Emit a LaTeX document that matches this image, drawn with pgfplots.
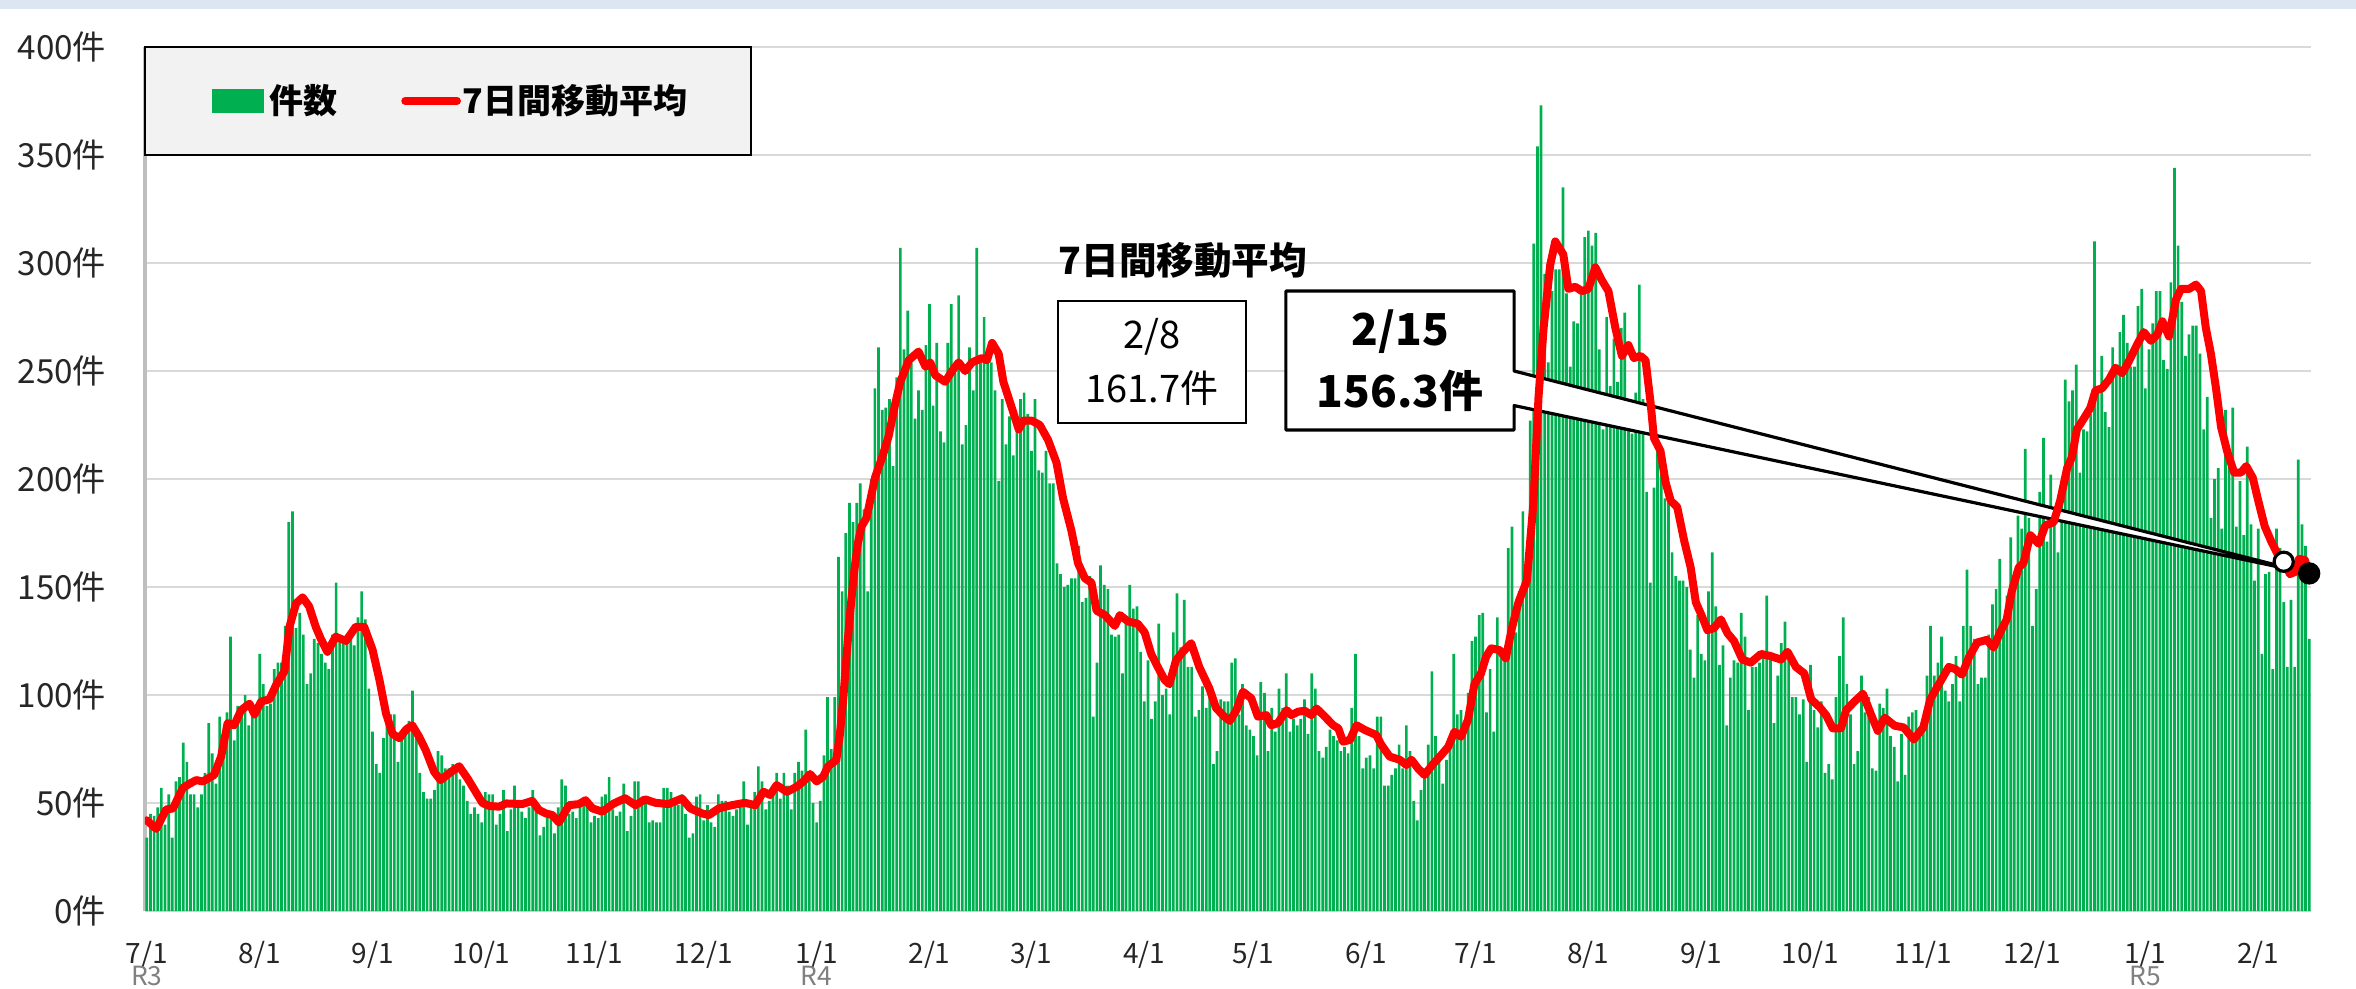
\documentclass[border=0pt]{standalone}
\usepackage{fontspec}
\setmainfont{Noto Sans CJK JP}
\usepackage{pgfplots}
\pgfplotsset{compat=1.18}
\definecolor{barg}{RGB}{0,176,80}
\definecolor{gridc}{RGB}{217,217,217}
\definecolor{axc}{RGB}{191,191,191}
\definecolor{topband}{RGB}{220,230,242}
\definecolor{legfill}{RGB}{242,242,242}
\begin{document}
\begin{tikzpicture}
\fill[white] (-36.25pt,-19.25pt) rectangle (552.75pt,227.75pt);
\fill[topband] (-36.25pt,225.5pt) rectangle (552.75pt,227.75pt);
\begin{axis}[
  scale only axis, width=541.5pt, height=216pt,
  xmin=-0.5, xmax=594.5, ymin=0, ymax=400,
  clip mode=individual,
  axis lines=left, axis line style={-},
  x axis line style={draw=gridc, line width=0.6pt},
  y axis line style={draw=axc, line width=0.8pt},
  ytick={0,50,...,400},
  yticklabels={0件,50件,100件,150件,200件,250件,300件,350件,400件},
  xtick={0,31,62,92,123,153,184,215,243,274,304,335,365,396,427,457,488,518,549,580},
  xticklabels={7/1,8/1,9/1,10/1,11/1,12/1,1/1,2/1,3/1,4/1,5/1,6/1,7/1,8/1,9/1,10/1,11/1,12/1,1/1,2/1},
  major tick length=0pt,
  ymajorgrids, grid style={draw=gridc, line width=0.3pt},
  yticklabel style={font=\fontsize{8.3}{10}\selectfont, text=black!85, anchor=east, inner sep=0pt, xshift=-9.5pt},
  xticklabel style={font=\fontsize{7}{8}\selectfont, text=black!85, anchor=north, inner sep=0pt, yshift=-7.4pt},
]
% daily counts
\addplot[ybar, bar width=0.74, fill=barg, draw=none, bar shift=0pt] coordinates {
(0,34)(1,45)(2,44)(3,48)(4,57)(5,40)(6,54)(7,34)(8,60)(9,62)(10,78)(11,69)(12,54)(13,54)(14,48)(15,54)(16,64)(17,87)(18,73)(19,59)(20,90)(21,80)(22,92)(23,127)(24,79)(25,95)(26,93)(27,100)(28,86)(29,90)(30,93)(31,119)(32,105)(33,95)(34,96)(35,112)(36,115)(37,115)(38,132)(39,180)(40,185)(41,131)(42,138)(43,128)(44,105)(45,110)(46,126)(47,124)(48,119)(49,115)(50,112)(51,128)(52,152)(53,126)(54,126)(55,126)(56,128)(57,123)(58,136)(59,148)(60,135)(61,103)(62,83)(63,68)(64,64)(65,80)(66,93)(67,91)(68,91)(69,69)(70,81)(71,82)(72,88)(73,102)(74,83)(75,64)(76,55)(77,52)(78,52)(79,56)(80,74)(81,72)(82,66)(83,66)(84,68)(85,65)(86,61)(87,58)(88,51)(89,45)(90,48)(91,45)(92,41)(93,55)(94,54)(95,54)(96,40)(97,45)
(98,56)(99,37)(100,47)(101,58)(102,48)(103,46)(104,43)(105,48)(106,56)(107,47)(108,35)(109,39)(110,44)(111,44)(112,36)(113,48)(114,61)(115,58)(116,45)(117,46)(118,43)(119,49)(120,52)(121,50)(122,41)(123,44)(124,43)(125,53)(126,54)(127,62)(128,47)(129,44)(130,46)(131,59)(132,37)(133,44)(134,60)(135,60)(136,53)(137,50)(138,41)(139,42)(140,41)(141,41)(142,57)(143,57)(144,55)(145,52)(146,49)(147,54)(148,45)(149,34)(150,36)(151,53)(152,54)(153,42)(154,49)(155,41)(156,39)(157,54)(158,51)(159,51)(160,46)(161,44)(162,47)(163,49)(164,60)(165,40)(166,48)(167,55)(168,67)(169,60)(170,47)(171,51)(172,57)(173,64)(174,52)(175,64)(176,58)(177,47)(178,64)(179,69)(180,65)(181,84)(182,61)(183,50)(184,41)(185,51)(186,72)(187,99)(188,75)(189,99)(190,164)(191,148)(192,175)(193,189)(194,180)(195,189)(196,198)(197,186)(198,148)
(199,200)(200,242)(201,261)(202,232)(203,233)(204,237)(205,206)(206,247)(207,307)(208,260)(209,278)(210,254)(211,228)(212,241)(213,232)(214,262)(215,281)(216,234)(217,263)(218,222)(219,217)(220,263)(221,281)(222,249)(223,285)(224,216)(225,225)(226,261)(227,241)(228,307)(229,256)(230,275)(231,254)(232,254)(233,241)(234,199)(235,237)(236,216)(237,229)(238,211)(239,223)(240,237)(241,240)(242,230)(243,213)(244,237)(245,204)(246,203)(247,213)(248,198)(249,198)(250,161)(251,156)(252,150)(253,151)(254,154)(255,154)(256,169)(257,143)(258,145)(259,155)(260,90)(261,115)(262,160)(263,151)(264,149)(265,128)(266,127)(267,128)(268,110)(269,134)(270,151)(271,140)(272,141)(273,120)(274,97)(275,116)(276,89)(277,97)(278,133)(279,100)(280,103)(281,91)(282,129)(283,147)(284,122)(285,144)(286,113)(287,113)(288,90)(289,93)(290,104)(291,94)(292,103)(293,68)(294,74)(295,98)(296,97)
(297,97)(298,115)(299,117)(300,91)(301,105)(302,86)(303,84)(304,81)(305,72)(306,106)(307,101)(308,74)(309,94)(310,83)(311,103)(312,94)(313,110)(314,83)(315,89)(316,86)(317,89)(318,98)(319,82)(320,110)(321,103)(322,74)(323,71)(324,76)(325,84)(326,81)(327,79)(328,74)(329,76)(330,73)(331,94)(332,119)(333,81)(334,66)(335,71)(336,72)(337,66)(338,90)(339,90)(340,58)(341,58)(342,63)(343,66)(344,77)(345,66)(346,86)(347,74)(348,51)(349,42)(350,56)(351,66)(352,77)(353,111)(354,81)(355,70)(356,59)(357,70)(358,78)(359,119)(360,91)(361,93)(362,83)(363,101)(364,125)(365,127)(366,137)(367,138)(368,92)(369,112)(370,83)
(371,136)(372,122)(373,117)(374,168)(375,178)(376,129)(377,148)(378,185)(379,154)(380,227)(381,309)(382,354)(383,373)(384,295)(385,254)(386,287)(387,297)(388,297)(389,335)(390,286)(391,252)(392,273)(393,272)(394,286)(395,312)(396,315)(397,308)(398,314)(399,260)(400,223)(401,275)(402,243)(403,265)(404,245)(405,270)(406,277)(407,225)(408,221)(409,240)(410,290)(411,237)(412,194)(413,152)(414,196)(415,216)(416,204)(417,191)(418,189)(419,166)(420,155)(421,153)(422,153)(423,150)(424,121)(425,108)(426,137)(427,119)(428,116)(429,148)(430,166)(431,141)(432,114)(433,123)(434,86)(435,108)(436,116)(437,115)(438,138)(439,127)(440,93)(441,113)(442,113)(443,115)(444,119)(445,146)(446,120)(447,87)(448,109)(449,124)(450,134)(451,119)(452,99)(453,99)(454,91)(455,98)(456,69)(457,114)(458,93)(459,85)(460,97)(461,64)(462,68)(463,61)(464,99)(465,118)(466,136)(467,105)(468,91)(469,68)(470,74)(471,109)(472,92)(473,99)(474,66)(475,65)(476,96)(477,94)(478,103)(479,81)(480,76)
(481,60)(482,82)(483,63)(484,90)(485,92)(486,93)(487,83)(488,86)(489,109)(490,132)(491,109)(492,115)(493,127)(494,102)(495,97)(496,105)(497,118)(498,97)(499,132)(500,158)(501,132)(502,126)(503,105)(504,108)(505,108)(506,128)(507,142)(508,149)(509,163)(510,134)(511,146)(512,173)(513,153)(514,183)(515,177)(516,214)(517,182)(518,132)(519,149)(520,194)(521,219)(522,171)(523,202)(524,187)(525,166)(526,190)(527,246)(528,236)(529,241)(530,253)(531,203)(532,223)(533,222)(534,230)(535,310)(536,240)(537,257)(538,231)(539,224)(540,261)(541,253)(542,268)(543,276)(544,263)(545,252)(546,252)(547,280)(548,288)(549,242)(550,260)(551,272)(552,287)(553,287)(554,255)(555,251)(556,291)(557,344)(558,308)(559,282)(560,257)(561,267)(562,271)(563,271)(564,258)(565,223)(566,238)(567,182)(568,200)(569,205)(570,177)(571,232)(572,214)(573,233)(574,178)(575,199)(576,174)(577,215)(578,179)(579,153)(580,177)(581,119)(582,156)(583,157)(584,112)(585,177)(586,168)(587,143)(588,113)(589,144)(590,113)(591,209)(592,179)(593,169)(594,126)
};
% callout for 2/15
\draw[fill=white, line width=0.8pt, line join=round] (axis cs:312.9,287) -- (axis cs:375.6,287) -- (axis cs:375.6,250) -- (axis cs:594,156.3) -- (axis cs:375.6,234) -- (axis cs:375.6,222.7) -- (axis cs:312.9,222.7) -- cycle;
% 7-day moving average
\addplot[color=red, line width=2pt, line join=round, line cap=round, no marks] coordinates {
(0,42)(2.6,38)(5.3,47)(7.2,47.5)(9.9,57)(11.8,59)(13.6,60.6)(15.4,60)(18.5,63)(20.4,71.5)(22.2,87)(24,86)(25.9,93)(28.2,96)(29.6,91)(31.4,97)(33.7,98)(35.5,104.6)(37.8,111)(39.2,131.6)(41,142.4)(42.8,145.2)(44.6,141)(46.4,131.6)(47.8,126)(49.6,120)(51.9,127)(54.7,125)(57.4,131.6)(59.7,131.6)(62,121)(63.9,107)(65.7,91.5)(67.5,82)(69.4,80)(71.2,84)(72.9,86)(74.8,80.7)(76.6,74.5)(78.9,64.5)(80.7,60.6)(83,63.7)(85.8,67)(88.1,61.4)(90.4,55)(92.2,50)(94.1,48.6)(96.8,48.3)(98.7,49.8)(100.4,49.7)(103.1,49.5)(105.9,51)(107.7,46.8)(109.6,45.2)(111.4,44.4)(113.2,41)(116,49)(118.7,49.5)(120.5,51.3)(122.4,47.5)(125.1,46)(128.3,49.8)(131.4,52.2)(134.2,49)(136.9,51.7)(139.7,50.1)(143.3,49.5)(147,52.1)(149.3,47.5)(152.5,45.2)(154.4,44.4)(157.1,47.5)(160.7,49)(164.3,50.1)(167.1,49)(169.4,55.2)(171.2,53.7)(173,58.3)(175.8,55.2)(178.5,57.5)(180.4,60)(182.2,63.4)(184,60)(185.8,62.2)(187.1,66.9)(189.4,70)(190.4,82)(191.4,100)(192.3,120)(193.3,140)(194.3,157)(195.3,170)(196.3,178)(197.7,182)(200.1,201)(202,210)(203.8,220)(205.6,235)(207,245)(209.3,255)(212,259)(213.9,252)(215.2,254)(216.6,248)(219.3,245)(221.2,250)(223,254)(224.8,250)(226.7,254)(229.4,256)(230.8,255)(232.2,263)(234,258)(235.3,245)(237.6,233)(239.5,223)(240.8,227)(243.1,227)(245.3,225)(247.6,218)(249.9,207.5)(251.7,191)(254,176)(255.8,161)(257.7,154)(259.5,152)(260.9,139)(263.2,137)(265.9,132)(267.3,137)(269.6,134)(272.2,133)(274.1,129)(275.9,119)(277.7,113)(279.6,107)(280.9,105)(282.7,116)(284.6,120)(286.9,124)(289.1,113)(291.9,103)(293.7,94)(296,90)(297.5,88)(299.3,93)(301.1,101.5)(303.4,98.5)(305.2,90)(307.5,90.7)(308.9,86)(310.7,87)(313.1,93)(314.4,90.7)(316.3,92.3)(318.1,92.7)(319.9,90.7)(321.3,93.8)(323.6,90)(325.9,86)(327.3,84.6)(328.6,78.4)(330.5,79.2)(332.3,86)(334.6,83.8)(337.7,81.5)(339.1,77)(341.4,71.5)(344.2,70)(346,67.6)(347.4,70)(349.2,66)(351,63)(353.3,68)(355.2,71.5)(357.5,76)(359.2,83)(361,80.7)(362.9,88.4)(364.7,105)(366.5,110)(367.9,117.7)(369.3,121.6)(371.6,120.8)(373.3,117)(375,131)(376.8,143)(379.1,153)(380.9,189)(382.3,238)(383.7,270)(385.5,299)(386.9,310)(389.1,304)(390.5,288)(392.4,289)(394.2,287)(396,288)(397.9,298)(399.7,292)(401.5,287)(403.4,270)(405.2,257)(407,262)(408.5,256)(410.3,257)(411.7,255)(413.1,235)(414,219)(415.8,213)(417.2,198.5)(418.6,190)(420.4,187)(422.3,171.5)(424.1,159)(425.5,143)(427.3,136)(428.7,130)(430.5,131)(432.4,135)(434.2,128.6)(436,125)(438.3,116.4)(440.6,115)(443.4,119)(446.1,118)(448.9,116.4)(450.7,120)(453,113)(455.3,110)(457.2,98)(459.5,94.4)(461.3,90.7)(463.1,84.6)(465.4,84.6)(466.8,93)(469.1,97)(471.4,100.6)(473.7,90.7)(475.5,83.4)(477.4,89.5)(480.1,85.8)(482.6,85)(485.4,79.4)(488,85)(489.9,98)(491.8,103.6)(495,113)(496.8,112)(498.6,109.4)(500.5,117.4)(502.8,124.3)(505.4,125.5)(507.3,122)(509.1,129)(510.9,135)(512.3,148)(514.2,159)(515.5,161)(517.4,174)(519.7,170)(521.5,178.5)(523.8,180)(525.6,190)(527.5,205)(528.8,210)(530.2,223)(532.1,228)(533.9,233)(535.3,241)(537.1,242)(539,246)(540.8,251.5)(542.6,249)(544,253)(546.8,262.5)(548.6,268)(550.5,264)(552.3,267)(553.7,273)(555.5,266)(557.4,283)(558.8,288)(561,288)(562.9,290)(564.3,287)(565.6,270)(567,258)(568.4,242)(569.8,224)(571.6,212)(573.4,203)(575.3,203)(576.7,206)(578.5,200.6)(580,190)(581.8,178)(583.6,171)(585.4,165)(587,161.7)(588.7,156)(590.2,157)(591.2,163)(592.8,162.5)(594,156.3)
};
% markers for 2/8 and 2/15
\addplot[only marks, mark=*, mark size=2.4pt, mark options={fill=white, draw=black, line width=0.8pt}] coordinates {(587,161.7)};
\addplot[only marks, mark=*, mark size=2.6pt, mark options={fill=black, draw=black}] coordinates {(594,156.3)};
% annotations
\node[font=\bfseries\fontsize{9.4}{11}\selectfont, inner sep=0pt] at (axis cs:284.6,301.4) {7日間移動平均};
\draw[fill=white, line width=0.45pt] (axis cs:250.3,282.4) rectangle (axis cs:302,225.9);
\node[font=\fontsize{9.5}{13.4}\selectfont, align=center, inner sep=0pt] at (axis cs:276.1,254.2) {2/8\\161.7件};
\node[font=\bfseries\fontsize{11}{15.4}\selectfont, align=center, inner sep=0pt] at (axis cs:344.3,254.9) {2/15\\156.3件};
% legend
\draw[fill=legfill, line width=0.45pt] (axis cs:-0.5,350) rectangle (axis cs:166,400);
\fill[barg] (axis cs:17.9,369.4) rectangle (axis cs:32.2,380.6);
\node[anchor=west, inner sep=0pt, font=\bfseries\fontsize{8.5}{10}\selectfont] at (axis cs:33.4,375.3) {件数};
\draw[red, line width=2pt, line cap=round] (axis cs:71,375.1) -- (axis cs:85.2,375.1);
\node[anchor=west, inner sep=0pt, font=\bfseries\fontsize{8.5}{10}\selectfont] at (axis cs:86.6,375.3) {7日間移動平均};
% era labels
\node[anchor=north, inner sep=0pt, text=black!50, font=\fontsize{6.6}{8}\selectfont, yshift=-13.6pt] at (axis cs:0,0) {R3};
\node[anchor=north, inner sep=0pt, text=black!50, font=\fontsize{6.6}{8}\selectfont, yshift=-13.6pt] at (axis cs:184,0) {R4};
\node[anchor=north, inner sep=0pt, text=black!50, font=\fontsize{6.6}{8}\selectfont, yshift=-13.6pt] at (axis cs:549,0) {R5};
\end{axis}
\pgfresetboundingbox
\path[use as bounding box] (-36.25pt,-19.25pt) rectangle (552.75pt,227.75pt);
\end{tikzpicture}
\end{document}
